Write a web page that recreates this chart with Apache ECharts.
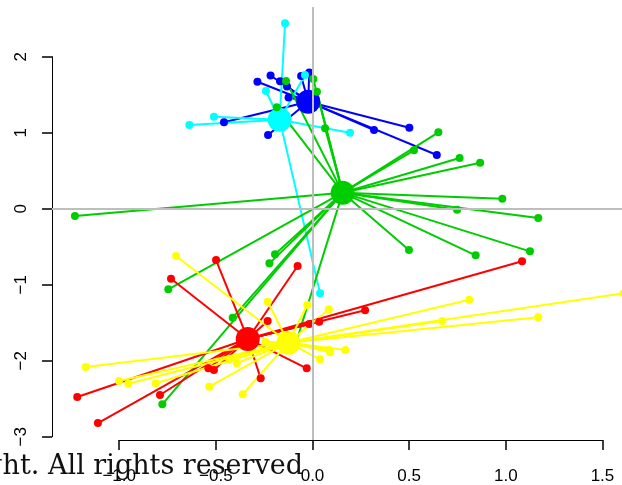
<!DOCTYPE html>
<html>
<head>
<meta charset="utf-8">
<script src="https://cdn.jsdelivr.net/npm/echarts@6/dist/echarts.min.js"></script>
<style>
  html, body { margin: 0; padding: 0; background: #fff; }
  #chart { width: 622px; height: 485px; }
</style>
</head>
<body>
<div id="chart"></div>
<script>
// group centres (big dots) and their members (small dots)
var blueCenter = [-0.022, 1.408];
var bluePts = [[-0.285,1.671],[-0.217,1.753],[-0.168,1.676],[-0.132,1.608],[-0.059,1.746],[-0.017,1.792],
  [-0.124,1.463],[-0.458,1.137],[-0.230,0.970],[0.501,1.066],[0.318,1.036],[0.643,0.707]];

var cyanCenter = [-0.17, 1.17];
var cyanPts = [[-0.142,2.44],[-0.241,1.549],[-0.510,1.211],[-0.637,1.101],[0.194,1.0],[0.039,-1.113],[-0.039,1.76]];

var greenCenter = [0.156, 0.211];
var greenPts = [[0.651,1.005],[0.525,0.768],[0.761,0.667],[0.867,0.605],[0.982,0.132],[0.748,-0.013],
  [1.168,-0.122],[1.125,-0.561],[0.844,-0.613],[0.499,-0.543],[-1.229,-0.096],[-0.137,1.68],[0.004,1.707],
  [0.023,1.54],[0.065,1.058],[-0.185,1.334],[-0.194,-0.6],[-0.223,-0.719],[-0.746,-1.061],[-0.413,-1.434],
  [-0.777,-2.574],[-0.085,-1.76]];

var redCenter = [-0.335, -1.714];
var redPts = [[-0.499,-0.675],[-0.077,-0.754],[-0.232,-1.478],[-0.030,-2.100],[-0.268,-2.232],[0.035,-1.487],
  [-0.017,-1.517],[0.272,-1.337],[1.084,-0.692],[-0.732,-0.921],[-1.217,-2.478],[-1.110,-2.820],
  [-0.789,-2.451],[-0.539,-2.100],[-0.510,-2.122]];

var yellowCenter = [-0.125, -1.763];
var yellowPts = [[-0.706,-0.622],[-1.173,-2.083],[-1.001,-2.267],[-0.953,-2.303],[-0.811,-2.297],[-0.534,-2.342],
  [-0.361,-2.442],[-0.232,-1.224],[-0.027,-1.267],[0.085,-1.324],[-0.244,-1.750],[-0.392,-2.034],[-0.430,-1.980],
  [0.039,-1.982],[0.087,-1.859],[0.091,-1.889],[0.170,-1.859],[0.811,-1.197],[0.672,-1.478],[1.168,-1.429],
  [1.610,-1.113]];

var xTicks = [-1, 1.5, 0.5];   // min, max, step of the drawn x axis
var yTicks = [-3, 2, 1];

var groups = [
  { c: blueCenter, p: bluePts, col: '#0000ff' },
  { c: cyanCenter, p: cyanPts, col: '#00ffff' },
  { c: greenCenter, p: greenPts, col: '#00cd00' },
  { c: redCenter, p: redPts, col: '#ff0000' },
  { c: yellowCenter, p: yellowPts, col: '#ffff00' }
];

function fmt(v, d) {
  return (v < 0 ? '\u2212' : '') + Math.abs(v).toFixed(d);
}

var series = [{
  type: 'scatter', data: [], xAxisIndex: 0, yAxisIndex: 0,
  markLine: {
    silent: true, symbol: 'none', label: { show: false },
    lineStyle: { color: '#bebebe', width: 2, type: 'solid' },
    data: [{ xAxis: 0 }, { yAxis: 0 }]
  }
}];

groups.forEach(function (g) {
  series.push({
    type: 'lines', coordinateSystem: 'cartesian2d', xAxisIndex: 0, yAxisIndex: 0,
    silent: true, clip: false,
    lineStyle: { color: g.col, width: 2, opacity: 1, curveness: 0 },
    data: g.p.map(function (p) { return { coords: [g.c, p] }; })
  });
  series.push({
    type: 'scatter', xAxisIndex: 0, yAxisIndex: 0, clip: false,
    symbolSize: 8, itemStyle: { color: g.col, opacity: 1 },
    data: g.p
  });
  series.push({
    type: 'scatter', xAxisIndex: 0, yAxisIndex: 0, clip: false,
    symbolSize: 24, itemStyle: { color: g.col, opacity: 1 },
    data: [g.c]
  });
});

var lbl = { color: '#000', fontSize: 17, fontFamily: '"Liberation Sans", Arial, sans-serif' };

var chart = echarts.init(document.getElementById('chart'));
chart.setOption({
  animation: false,
  grid: [
    { left: 52, right: 0, top: 7, bottom: 45, outerBoundsMode: 'none' },
    { left: 119.2, right: 19.55, top: 7, bottom: 45, outerBoundsMode: 'none' },
    { left: 52, right: 0, top: 56.7, bottom: 48.3, outerBoundsMode: 'none' }
  ],
  xAxis: [
    { type: 'value', gridIndex: 0, min: -1.3477, max: 1.6011, show: false },
    { type: 'value', gridIndex: 1, min: xTicks[0], max: xTicks[1], interval: xTicks[2], position: 'bottom',
      axisLine: { show: true, lineStyle: { color: '#000', width: 1 } },
      axisTick: { show: true, length: 10, lineStyle: { color: '#000', width: 1.5 } },
      axisLabel: Object.assign({ margin: 28, formatter: function (v) { return fmt(v, 1); } }, lbl),
      splitLine: { show: false } },
    { type: 'value', gridIndex: 2, min: 0, max: 1, show: false }
  ],
  yAxis: [
    { type: 'value', gridIndex: 0, min: -3.0434, max: 2.654, show: false },
    { type: 'value', gridIndex: 1, min: 0, max: 1, show: false },
    { type: 'value', gridIndex: 2, min: yTicks[0], max: yTicks[1], interval: yTicks[2], position: 'left',
      axisLine: { show: true, lineStyle: { color: '#000', width: 1 } },
      axisTick: { show: true, length: 10, lineStyle: { color: '#000', width: 1.5 } },
      axisLabel: Object.assign({ margin: 22, rotate: 90, formatter: function (v) { return fmt(v, 0); } }, lbl),
      splitLine: { show: false } }
  ],
  graphic: [{
    type: 'text', x: 303, y: 467, z: 100,
    style: {
      text: 'ght. All rights reserved', fill: '#111',
      font: '27px "DejaVu Serif", serif', textAlign: 'right', textVerticalAlign: 'middle'
    }
  }],
  series: series
});
</script>
</body>
</html>
